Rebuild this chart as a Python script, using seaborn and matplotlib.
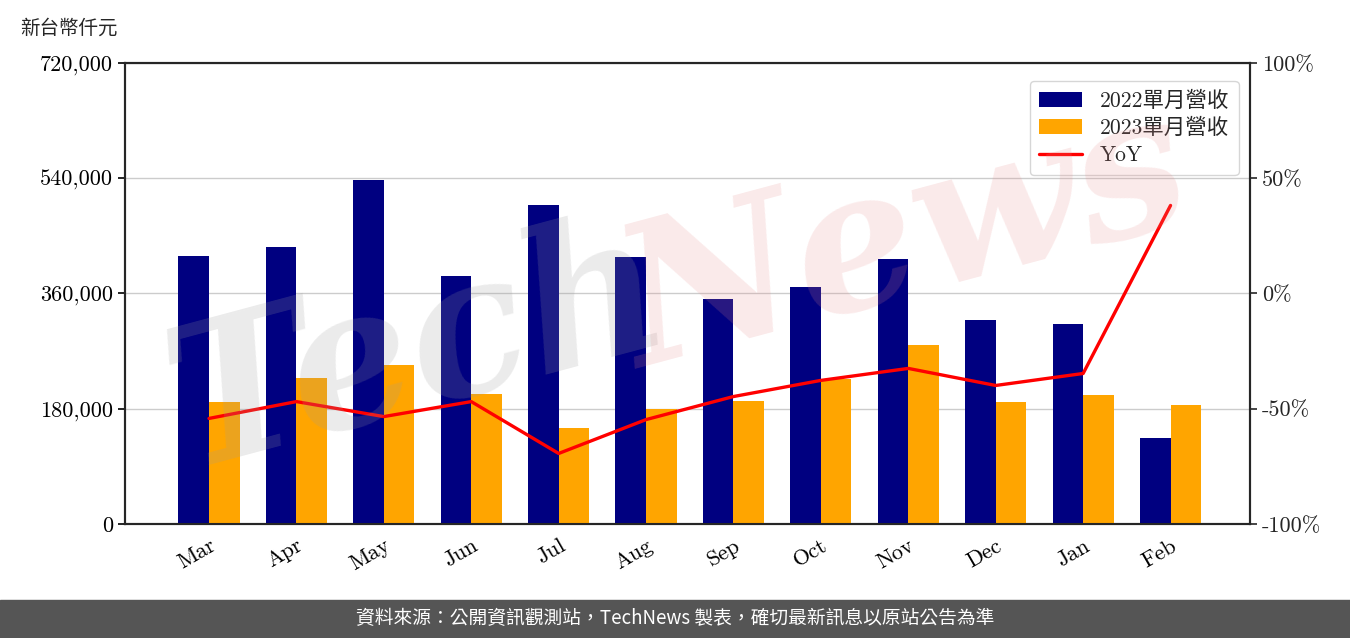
import numpy as np
import pandas as pd
import seaborn as sns
import matplotlib.pyplot as plt
from matplotlib.ticker import FuncFormatter

months = ["Mar", "Apr", "May", "Jun", "Jul", "Aug", "Sep", "Oct", "Nov", "Dec", "Jan", "Feb"]
rev_2022 = [418600, 432600, 537300, 387300, 498200, 417000, 351400, 370200, 413900, 318600, 312400, 134300]
rev_2023 = [190500, 228000, 248300, 203000, 149900, 179600, 192100, 226500, 279600, 190500, 201500, 185900]
yoy = [-54.2, -46.9, -53.4, -46.9, -69.4, -54.7, -44.7, -37.7, -32.5, -39.9, -34.7, 38.2]

sns.set_style("white")
plt.rcParams['font.family'] = ['cmr10', 'Noto Sans CJK TC', 'DejaVu Sans']
plt.rcParams['axes.unicode_minus'] = False

df = pd.DataFrame({
    'month': months * 2,
    'rev': rev_2022 + rev_2023,
    'series': ['2022單月營收'] * 12 + ['2023單月營收'] * 12,
})

fig = plt.figure(figsize=(13.5, 6.38), dpi=100)
ax = fig.add_axes([125 / 1350, 1 - 524 / 638, 1125 / 1350, 461 / 638])

# watermark
fig.text(0.31, 0.45, "Tech", fontsize=140, color="#9e9e9e", alpha=0.2, rotation=15,
         ha='center', va='center', family='DejaVu Serif', style='italic', weight='bold', zorder=0)
fig.text(0.67, 0.62, "News", fontsize=140, color="#e88a8a", alpha=0.18, rotation=15,
         ha='center', va='center', family='DejaVu Serif', style='italic', weight='bold', zorder=0)
ax.patch.set_alpha(0)

sns.barplot(data=df, x='month', y='rev', hue='series', order=months,
            palette=['#000080', '#FFA500'], width=0.7, ax=ax, saturation=1,
            linewidth=0, edgecolor='none', zorder=3)
xlim = (-0.961, 11.909)
ax.set_xlim(*xlim)
ax.set_ylim(0, 720000)
ax.set_yticks([0, 180000, 360000, 540000, 720000])
ax.yaxis.set_major_formatter(FuncFormatter(lambda v, p: f"{int(v):,}"))
ax.grid(axis='y', color='#cccccc', linewidth=1, zorder=0)
ax.set_axisbelow(True)
ax.set_xlabel("")
ax.set_ylabel("")
ax.tick_params(axis='both', labelsize=16, direction='out', length=5, width=1.2, colors='black')
ax.tick_params(axis='x', colors='#333333', labelcolor='black')
for lab in ax.get_xticklabels():
    lab.set_rotation(30)
    lab.set_ha('right')
    lab.set_rotation_mode('anchor')
for s in ax.spines.values():
    s.set_linewidth(1.5)
    s.set_color('black')

ax2 = ax.twinx()
sns.lineplot(x=np.arange(len(months)), y=yoy, color='red', linewidth=2.4, ax=ax2, label='YoY', legend=False)
ax2.set_ylim(-100, 100)
ax2.set_yticks([-100, -50, 0, 50, 100])
ax2.yaxis.set_major_formatter(FuncFormatter(lambda v, p: f"{int(v)}%"))
ax2.tick_params(axis='y', labelsize=16, length=5, width=1.2)
for s in ax2.spines.values():
    s.set_linewidth(1.5)
ax2.set_xlim(*xlim)

h1, l1 = ax.get_legend_handles_labels()
h2, l2 = ax2.get_legend_handles_labels()
if ax.get_legend() is not None:
    ax.get_legend().remove()
ax2.legend(h1 + h2, l1 + l2, loc='upper right', fontsize=15.5, frameon=True,
           framealpha=0.8, edgecolor='#cccccc', borderpad=0.45, handlelength=2.0,
           labelspacing=0.35, bbox_to_anchor=(0.9995, 0.985))

fig.text(20 / 1350, 1 - 28 / 638, "新台幣仟元", fontsize=14, ha='left', va='center',
         family=['Noto Sans CJK TC'])

# footer band
fig.patches.append(plt.Rectangle((0, 0), 1, 38 / 638, transform=fig.transFigure,
                                 color='#555555', zorder=5))
fig.text(0.5, 19 / 638, "資料來源：公開資訊觀測站，TechNews 製表，確切最新訊息以原站公告為準",
         color='white', fontsize=13.5, ha='center', va='center',
         family=['Noto Sans CJK TC'], zorder=6)

fig.savefig("out.png", dpi=100)
